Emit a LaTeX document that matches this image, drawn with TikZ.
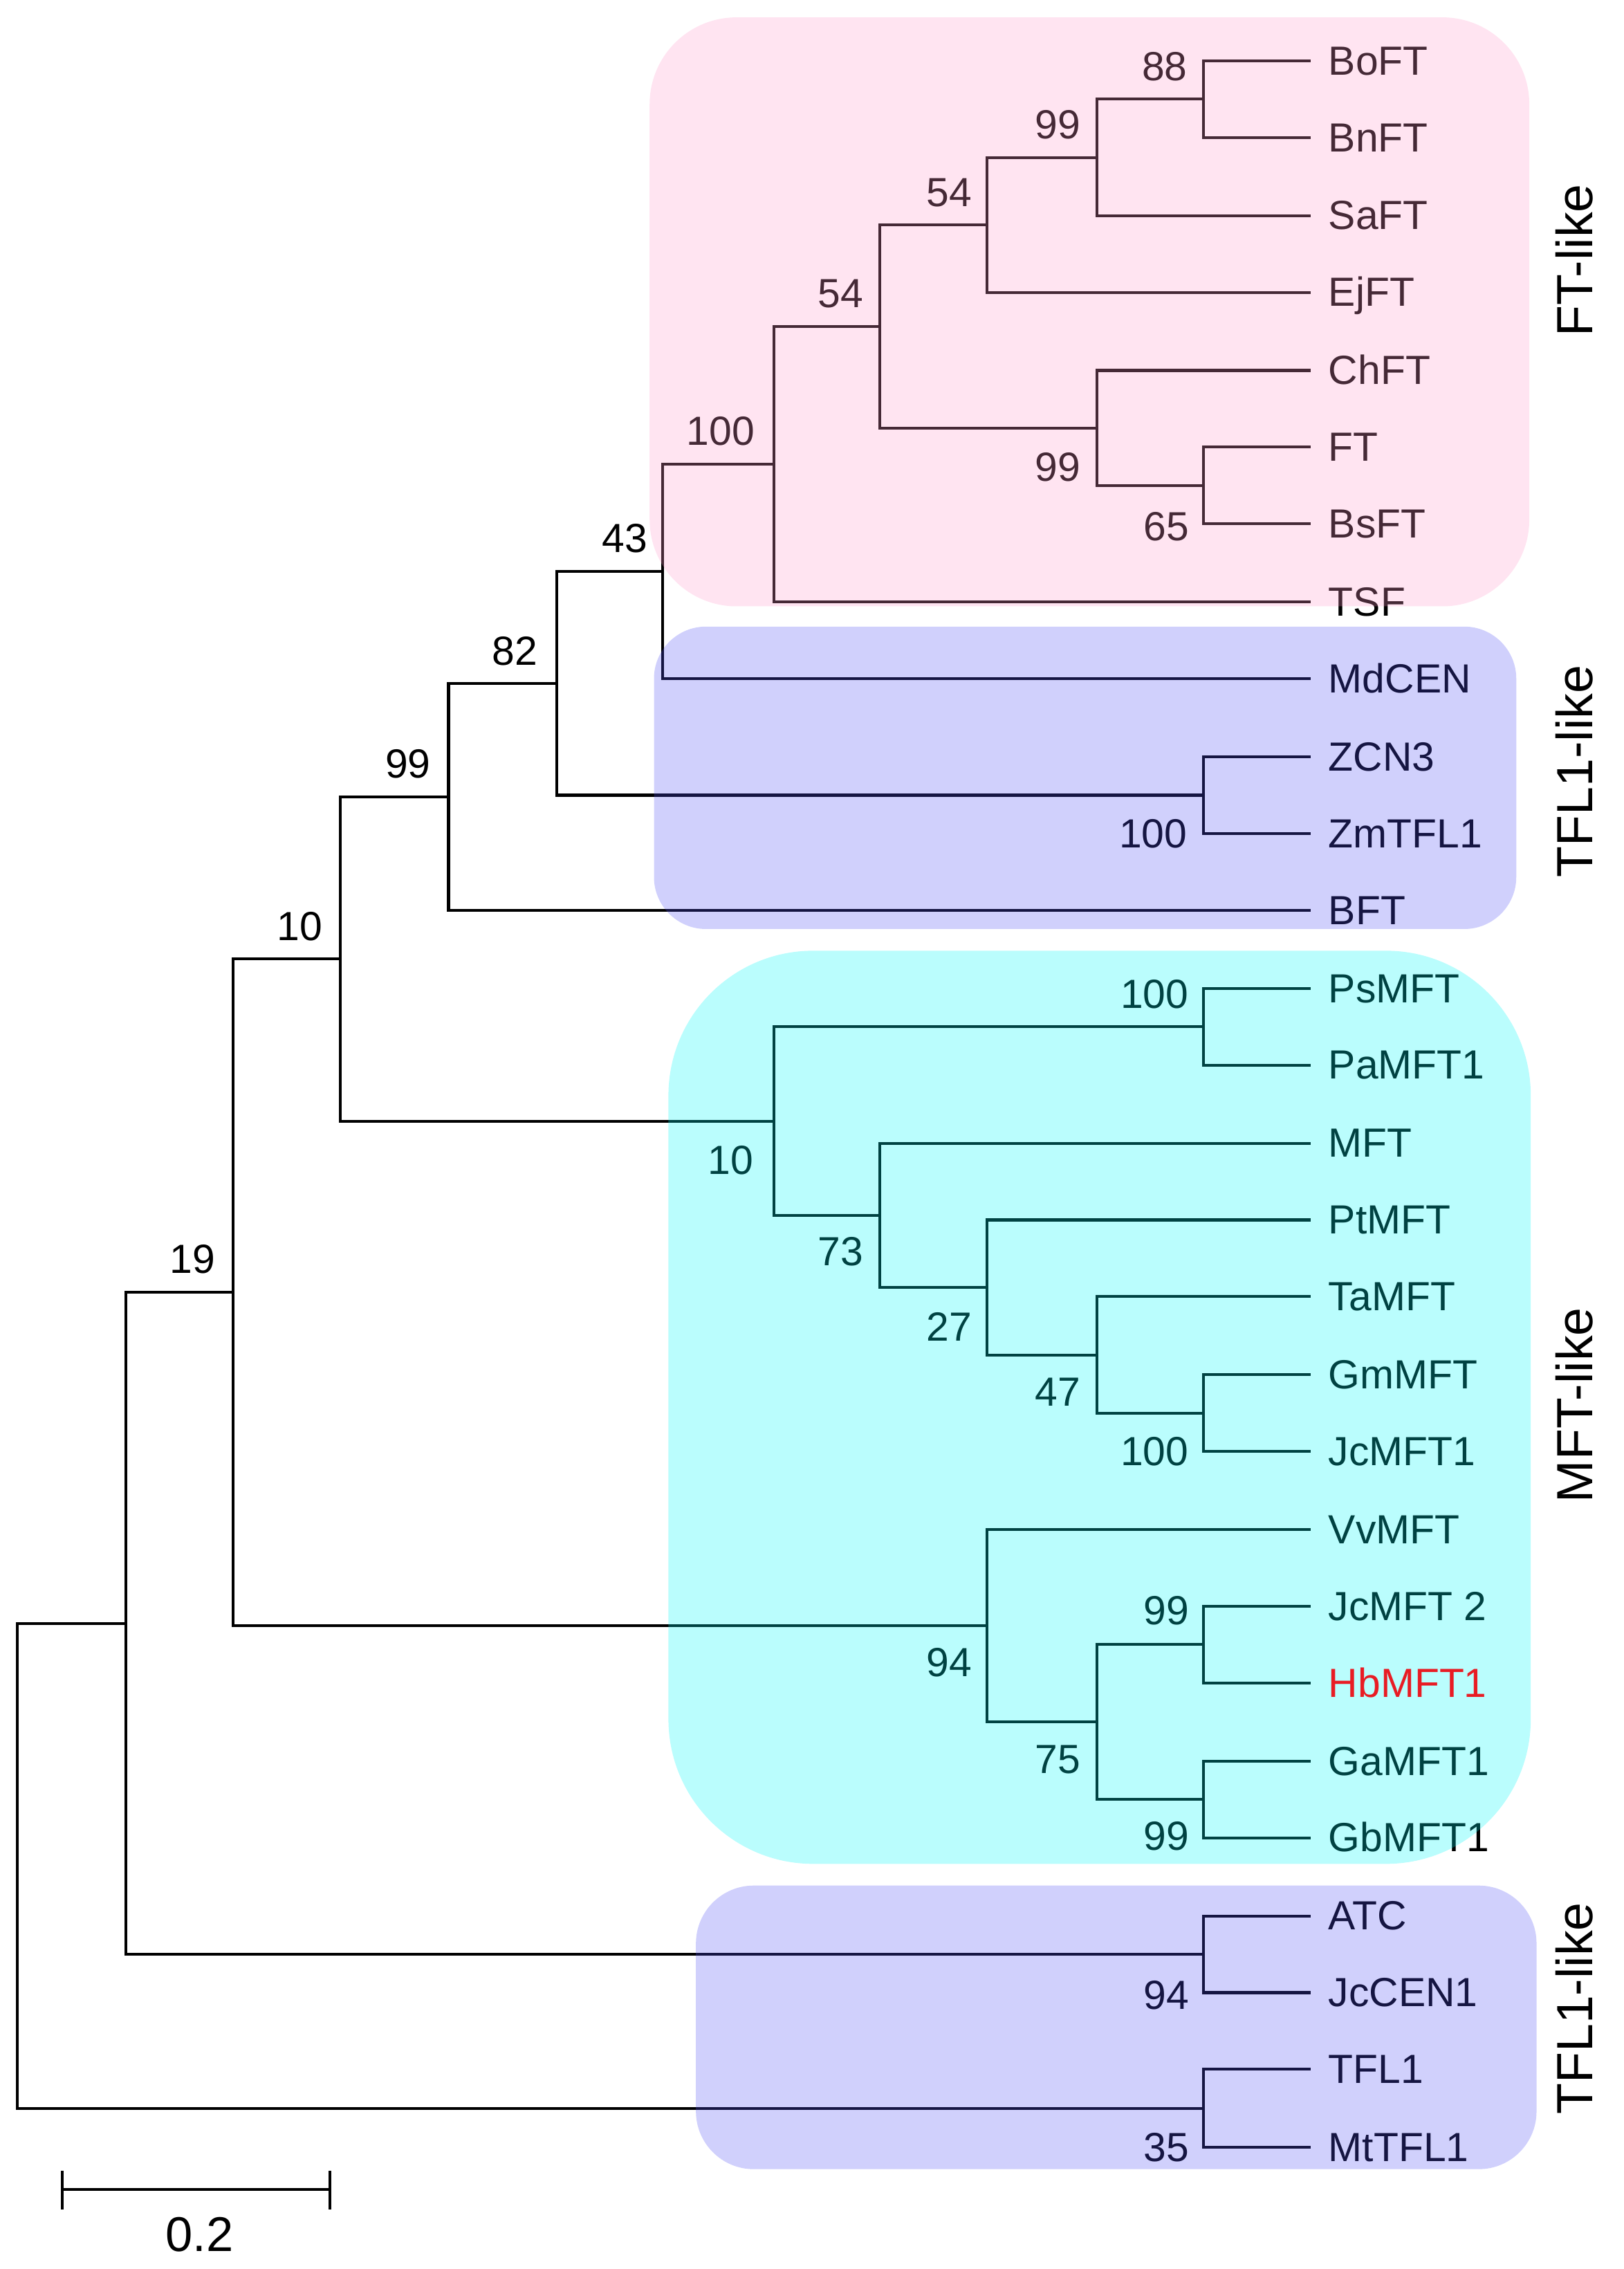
\documentclass[tikz,border=0pt]{standalone}
\usepackage{fontspec}
\setmainfont{Liberation Sans}
\usetikzlibrary{positioning}
\pgfdeclarelayer{tint}
\pgfdeclarelayer{front}
\pgfsetlayers{main,tint,front}
\definecolor{ftpink}{RGB}{255,155,203}
\definecolor{tflblue}{RGB}{81,81,244}
\definecolor{mftcyan}{RGB}{0,246,246}
\definecolor{hbred}{RGB}{232,28,36}

\begin{document}
\begin{tikzpicture}[x=0.25mm, y=-0.25mm,
			leaf/.style={anchor=west, inner xsep=3mm, inner ysep=0pt, text height=13.8pt, text depth=0pt, font=\fontsize{20}{24}\selectfont},
			boot/.style={inner sep=0pt, font=\fontsize{20}{24}\selectfont},
			clade/.style={rotate=90, inner sep=0pt, font=\fontsize{25}{30}\selectfont},
			branch/.style={black, line width=1.4pt},
			cladebox/.style={fill opacity=0.27, rounded corners=#1}]
		\useasboundingbox (0,0) rectangle (1122,1568);
		% leaves
		\path 	(906,42) 	node 	(BoFT) [leaf] {BoFT}
		        (906,95) 	node 	(BnFT) [leaf] {BnFT}
		        (906,149) 	node 	(SaFT) [leaf] {SaFT}
		        (906,202) 	node 	(EjFT) [leaf] {EjFT}
		        (906,256) 	node 	(ChFT) [leaf] {ChFT}
		        (906,309) 	node 	(FT) [leaf] {FT}
		        (906,362) 	node 	(BsFT) [leaf] {BsFT}
		        (906,416) 	node 	(TSF) [leaf] {TSF}
		        (906,469) 	node 	(MdCEN) [leaf] {MdCEN}
		        (906,523) 	node 	(ZCN3) [leaf] {ZCN3}
		        (906,576) 	node 	(ZmTFL1) [leaf] {ZmTFL1}
		        (906,629) 	node 	(BFT) [leaf] {BFT}
		        (906,683) 	node 	(PsMFT) [leaf] {PsMFT}
		        (906,736) 	node 	(PaMFT1) [leaf] {PaMFT1}
		        (906,790) 	node 	(MFT) [leaf] {MFT}
		        (906,843) 	node 	(PtMFT) [leaf] {PtMFT}
		        (906,896) 	node 	(TaMFT) [leaf] {TaMFT}
		        (906,950) 	node 	(GmMFT) [leaf] {GmMFT}
		        (906,1003) 	node 	(JcMFT1) [leaf] {JcMFT1}
		        (906,1057) 	node 	(VvMFT) [leaf] {VvMFT}
		        (906,1110) 	node 	(JcMFTb) [leaf] {JcMFT 2}
		        (906,1217) 	node 	(GaMFT1) [leaf] {GaMFT1}
		        (906,1270) 	node 	(GbMFT1) [leaf] {GbMFT1}
		        (906,1324) 	node 	(ATC) [leaf] {ATC}
		        (906,1377) 	node 	(JcCEN1) [leaf] {JcCEN1}
		        (906,1430) 	node 	(TFL1) [leaf] {TFL1}
		        (906,1484) 	node 	(MtTFL1) [leaf] {MtTFL1};
		\begin{pgfonlayer}{front}
		\path 	(906,1163) 	node 	(HbMFT1) [leaf, text=hbred] {HbMFT1};
		\end{pgfonlayer}
		% inner nodes
		\path 	(12,1289.4) 	coordinate (root)
		        (87,1121.8) 	coordinate (n19)
		        (161,893) 	coordinate (nA)
		        (235,662.6) 	coordinate (nB)
		        (310,550.6) 	coordinate (nC)
		        (385,472.2) 	coordinate (nD)
		        (458,394.9) 	coordinate (nE)
		        (535,320.8) 	coordinate (nF)
		        (608,225.6) 	coordinate (nG)
		        (682,155.4) 	coordinate (nH)
		        (758,108.8) 	coordinate (nI)
		        (832,68.5) 	coordinate (nJ)
		        (758,295.8) 	coordinate (nK)
		        (832,335.5) 	coordinate (nL)
		        (832,549.5) 	coordinate (nY)
		        (535,774.7) 	coordinate (nM)
		        (832,709.5) 	coordinate (nN)
		        (608,839.8) 	coordinate (nO)
		        (682,889.6) 	coordinate (nP)
		        (758,936.3) 	coordinate (nQ)
		        (832,976.5) 	coordinate (nR)
		        (682,1123.5) 	coordinate (nS)
		        (758,1190) 	coordinate (nT)
		        (832,1136.5) 	coordinate (nU)
		        (832,1243.5) 	coordinate (nV)
		        (832,1350.5) 	coordinate (nW)
		        (832,1457) 	coordinate (nX);
		\draw [branch] (root) |- (n19) (root) |- (nX)
		        (n19) |- (nA) (n19) |- (nW)
		        (nA) |- (nB) (nA) |- (nS)
		        (nB) |- (nC) (nB) |- (nM)
		        (nC) |- (nD) (nC) |- (BFT.west)
		        (nD) |- (nE) (nD) |- (nY)
		        (nE) |- (nF) (nE) |- (MdCEN.west)
		        (nF) |- (nG) (nF) |- (TSF.west)
		        (nG) |- (nH) (nG) |- (nK)
		        (nH) |- (nI) (nH) |- (EjFT.west)
		        (nI) |- (nJ) (nI) |- (SaFT.west)
		        (nJ) |- (BoFT.west) (nJ) |- (BnFT.west)
		        (nK) |- (ChFT.west) (nK) |- (nL)
		        (nL) |- (FT.west) (nL) |- (BsFT.west)
		        (nY) |- (ZCN3.west) (nY) |- (ZmTFL1.west)
		        (nM) |- (nN) (nM) |- (nO)
		        (nN) |- (PsMFT.west) (nN) |- (PaMFT1.west)
		        (nO) |- (MFT.west) (nO) |- (nP)
		        (nP) |- (PtMFT.west) (nP) |- (nQ)
		        (nQ) |- (TaMFT.west) (nQ) |- (nR)
		        (nR) |- (GmMFT.west) (nR) |- (JcMFT1.west)
		        (nS) |- (VvMFT.west) (nS) |- (nT)
		        (nT) |- (nU) (nT) |- (nV)
		        (nU) |- (JcMFTb.west) (nU) |- (HbMFT1.west)
		        (nV) |- (GaMFT1.west) (nV) |- (GbMFT1.west)
		        (nW) |- (ATC.west) (nW) |- (JcCEN1.west)
		        (nX) |- (TFL1.west) (nX) |- (MtTFL1.west);
		% bootstrap values
		\path 	(805,46) 	node (bJ) [boot] {88}
		        (731,86) 	node (bI) [boot] {99}
		        (656,133) 	node (bH) [boot] {54}
		        (581,203) 	node (bG) [boot] {54}
		        (498,298) 	node (bF) [boot] {100}
		        (731,323) 	node (bK) [boot] {99}
		        (806,364) 	node (bL) [boot] {65}
		        (432,372) 	node (bE) [boot] {43}
		        (356,450) 	node (bD) [boot] {82}
		        (282,528) 	node (bC) [boot] {99}
		        (797,576) 	node (bY) [boot] {100}
		        (207,640) 	node (bB) [boot] {10}
		        (798,687) 	node (bN) [boot] {100}
		        (505,802) 	node (bM) [boot] {10}
		        (581,865) 	node (bO) [boot] {73}
		        (656,917) 	node (bP) [boot] {27}
		        (731,962) 	node (bQ) [boot] {47}
		        (798,1003) 	node (bR) [boot] {100}
		        (133,870) 	node (bA) [boot] {19}
		        (806,1113) 	node (bU) [boot] {99}
		        (656,1149) 	node (bS) [boot] {94}
		        (731,1216) 	node (bT) [boot] {75}
		        (806,1269) 	node (bV) [boot] {99}
		        (806,1379) 	node (bW) [boot] {94}
		        (806,1484) 	node (bX) [boot] {35};
		% clade boxes
		\begin{pgfonlayer}{tint}
		\fill [ftpink, cladebox=15mm] (449,12) rectangle (1057,419);
		\fill [tflblue, cladebox=9mm] (452,433) rectangle (1048,642);
		\fill [mftcyan, cladebox=25mm] (462,657) rectangle (1058,1288);
		\fill [tflblue, cladebox=10mm] (481,1303) rectangle (1062,1499);
		\end{pgfonlayer}
		\path 	(1088,180) 	node (cFT) [clade] {FT-like}
		        (1088,533) 	node (cTFLa) [clade] {TFL1-like}
		        (1088,971) 	node (cMFT) [clade] {MFT-like}
		        (1088,1388) 	node (cTFLb) [clade] {TFL1-like};
		% scale bar
		\path 	(43,1513) 	coordinate (sbL)
		        (228,1513) 	coordinate (sbR)
		        (138,1544) 	node (sbT) [inner sep=0pt, font=\fontsize{24}{28}\selectfont] {0.2};
		\draw [branch] (sbL) -- (sbR) (43,1500) -- (43,1527) (228,1500) -- (228,1527);
	\end{tikzpicture}
\end{document}
